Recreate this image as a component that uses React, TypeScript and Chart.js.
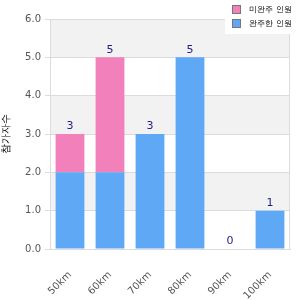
import React, { useEffect, useRef } from "react";
import { Chart, registerables } from "chart.js";

Chart.register(...registerables);

const categories = ["50km", "60km", "70km", "80km", "90km", "100km"];
const finishedValues = [2, 2, 3, 5, 0, 1];
const unfinishedValues = [1, 3, 0, 0, 0, 0];
const finishedLabel = "완주한 인원";
const unfinishedLabel = "미완주 인원";
const yTitle = "참가자수";

const BLUE = "#5fa8f5";
const PINK = "#f180bb";
const FONT = "'DejaVu Sans', sans-serif";

const bandsPlugin = {
  id: "bands",
  beforeDraw(chart: any) {
    const { ctx, chartArea, scales } = chart;
    const y = scales.y;
    ctx.save();
    for (let v = 1; v < 6; v += 2) {
      const top = y.getPixelForValue(v + 1);
      const bot = y.getPixelForValue(v);
      ctx.fillStyle = "#f2f2f2";
      ctx.fillRect(chartArea.left, top, chartArea.right - chartArea.left, bot - top);
    }
    ctx.restore();
  },
  afterDraw(chart: any) {
    const { ctx, chartArea } = chart;
    ctx.save();
    ctx.strokeStyle = "#dcdcdc";
    ctx.lineWidth = 1;
    ctx.beginPath();
    ctx.moveTo(Math.round(chartArea.right) - 0.5, chartArea.top);
    ctx.lineTo(Math.round(chartArea.right) - 0.5, chartArea.bottom);
    ctx.stroke();
    ctx.restore();
  },
};

const totalsPlugin = {
  id: "totals",
  afterDatasetsDraw(chart: any) {
    const { ctx, scales } = chart;
    ctx.save();
    ctx.fillStyle = "#1f1f8a";
    ctx.font = `11px ${FONT}`;
    ctx.textAlign = "center";
    ctx.textBaseline = "bottom";
    categories.forEach((_, i) => {
      const total = finishedValues[i] + unfinishedValues[i];
      const x = scales.x.getPixelForValue(i);
      const y = scales.y.getPixelForValue(total);
      ctx.fillText(String(total), x, y - 2);
    });
    ctx.restore();
  },
};

const legendPlugin = {
  id: "customLegend",
  afterDraw(chart: any) {
    const { ctx } = chart;
    ctx.save();
    ctx.fillStyle = "#ffffff";
    ctx.fillRect(225, 0, 65, 34);
    const items = [
      { label: unfinishedLabel, color: PINK },
      { label: finishedLabel, color: BLUE },
    ];
    items.forEach((it, i) => {
      const y = 4 + i * 14;
      ctx.fillStyle = it.color;
      ctx.fillRect(232, y + 1, 9, 9);
      ctx.strokeStyle = "#777";
      ctx.lineWidth = 1;
      ctx.strokeRect(232.5, y + 1.5, 8, 8);
      ctx.fillStyle = "#000";
      ctx.font = `8px ${FONT}`;
      ctx.textBaseline = "middle";
      ctx.textAlign = "left";
      ctx.fillText(it.label, 249, y + 6);
    });
    ctx.restore();
  },
};

export default function App() {
  const ref = useRef<HTMLCanvasElement>(null);
  useEffect(() => {
    if (!ref.current) return;
    const chart = new Chart(ref.current, {
      type: "bar",
      data: {
        labels: categories,
        datasets: [
          {
            label: finishedLabel,
            data: finishedValues,
            backgroundColor: BLUE,
            barPercentage: 0.9,
            categoryPercentage: 0.8,
          },
          {
            label: unfinishedLabel,
            data: unfinishedValues,
            backgroundColor: PINK,
            barPercentage: 0.9,
            categoryPercentage: 0.8,
          },
        ],
      },
      options: {
        animation: false,
        responsive: false,
        maintainAspectRatio: false,
        layout: { padding: { top: 19, right: 10, left: 0, bottom: 0 } },
        plugins: {
          legend: { display: false },
          tooltip: { enabled: false },
        },
        scales: {
          x: {
            stacked: true,
            grid: { display: false },
            border: { display: true, color: "#dcdcdc" },
            ticks: {
              minRotation: 45,
              maxRotation: 45,
              padding: 12,
              color: "#555",
              font: { family: FONT, size: 10 },
            },
            afterFit(scale: any) {
              scale.height = 51;
            },
          },
          y: {
            stacked: true,
            min: 0,
            max: 6,
            grid: { color: "#dcdcdc", tickLength: 5 },
            border: { display: true, color: "#dcdcdc" },
            ticks: {
              stepSize: 1,
              padding: 4,
              color: "#555",
              font: { family: FONT, size: 10 },
              callback: (v: any) => Number(v).toFixed(1),
            },
            title: {
              display: true,
              text: yTitle,
              color: "#000",
              font: { family: FONT, size: 10 },
              padding: 0,
            },
            afterFit(scale: any) {
              scale.width = 50;
            },
          },
        },
      },
      plugins: [bandsPlugin, totalsPlugin, legendPlugin],
    });
    return () => chart.destroy();
  }, []);
  return (
    <div style={{ position: "fixed", left: 0, top: 0, width: 300, height: 300, background: "#fff" }}>
      <canvas ref={ref} width={300} height={300} />
    </div>
  );
}
